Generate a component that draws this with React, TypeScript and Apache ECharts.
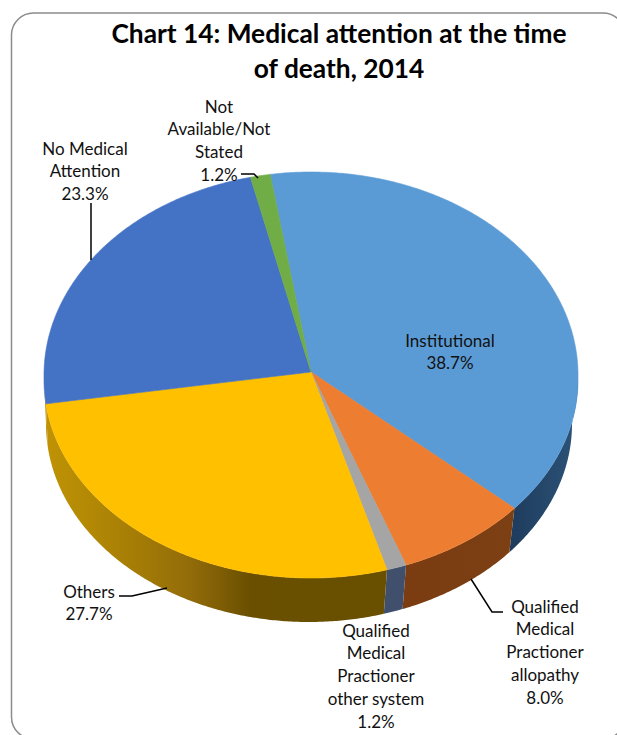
import React, { useEffect, useRef } from "react";
import * as echarts from "echarts";

const categories = [
  "Institutional",
  "Qualified\nMedical\nPractioner\nallopathy",
  "Qualified\nMedical\nPractioner\nother system",
  "Others",
  "No Medical\nAttention",
  "Not\nAvailable/Not\nStated",
];
const values = [38.7, 8.0, 1.2, 27.7, 23.3, 1.2];

const topColors = ["#5b9bd5", "#ed7d31", "#a5a5a5", "#ffc000", "#4472c4", "#70ad47"];
const wallStops: [number, string][][] = [
  [[0, "#1f3d5e"], [1, "#2c5378"]],
  [[0, "#7a3c10"], [1, "#7c4014"]],
  [[0, "#3f4f6c"], [1, "#3f4f6c"]],
  [[0, "#c09305"], [0.25, "#a67e05"], [0.42, "#936c0a"], [0.6, "#6a4f00"], [1, "#685000"]],
  [[0, "#c09305"], [1, "#c09305"]],
  [[0, "#000"], [1, "#000"]],
];
const labelAnchors = [
  [450, 340],
  [545, 606],
  [376, 630],
  [89, 591],
  [85, 148],
  [219, 106],
];
const leaders = [
  null,
  [[471, 579], [492, 612], [503, 612]],
  null,
  [[119, 596], [132, 596], [167, 588]],
  [[91, 203], [91, 260]],
  [[241, 174], [254, 174], [258, 178]],
];

const CX = 311, APEX_Y = 372, RX = 267, DEPTH = 44;
const BACK_CY = 375, BACK_RY = 203, FRONT_CY = 380, FRONT_RY = 198;
const FLOOR_CX = 309, FLOOR_RX = 263;
const START = -8.8, LH = 22.8, FONT = "Lato, Carlito, sans-serif";
const total = values.reduce((a, b) => a + b, 0);
const surfacePt = (deg: number) => {
  const r = (deg * Math.PI) / 180;
  const c = Math.cos(r);
  return [CX + RX * Math.sin(r), c > 0 ? BACK_CY - BACK_RY * c : FRONT_CY - FRONT_RY * c];
};
const floorPt = (deg: number) => {
  const r = (deg * Math.PI) / 180;
  return [FLOOR_CX + FLOOR_RX * Math.sin(r), FRONT_CY - FRONT_RY * Math.cos(r) + DEPTH];
};
const arc = (a: number, b: number, f: (d: number) => number[]) => {
  const n = Math.max(2, Math.ceil(Math.abs(b - a) * 2));
  return Array.from({ length: n + 1 }, (_, i) => f(a + ((b - a) * i) / n));
};

function renderItem(params: any) {
  const i = params.dataIndex;
  const before = values.slice(0, i).reduce((a, b) => a + b, 0);
  const a = START + (before / total) * 360;
  const b = a + (values[i] / total) * 360;
  const children: any[] = [];
  const wa = Math.max(a, 90), wb = Math.min(b, 270);
  if (wb > wa) {
    const top = arc(wa, wb, surfacePt);
    const bottom = arc(wb, wa, floorPt);
    const x0 = Math.min(...top.map((p) => p[0]));
    const x1 = Math.max(...top.map((p) => p[0]));
    children.push({
      type: "polygon",
      shape: { points: [...top, ...bottom] },
      style: {
        fill: new echarts.graphic.LinearGradient(
          x0, 0, x1, 0,
          wallStops[i].map(([offset, color]) => ({ offset, color })),
          true
        ),
      },
    });
  }
  children.push({
    type: "polygon",
    shape: { points: [[CX, APEX_Y], ...arc(a, b, surfacePt)] },
    style: { fill: topColors[i], stroke: topColors[i], lineWidth: 0.6 },
  });
  return { type: "group", children };
}

function renderLabels(params: any) {
  const i = params.dataIndex;
  const lines = [...categories[i].split("\n"), values[i].toFixed(1) + "%"];
  const [x, y] = labelAnchors[i];
  const children: any[] = lines.map((text, k) => ({
    type: "text",
    style: {
      text,
      x,
      y: y + k * LH,
      align: "center",
      verticalAlign: "middle",
      font: `17px ${FONT}`,
      fill: "#111",
    },
  }));
  const leader = leaders[i];
  if (leader) {
    children.push({
      type: "polyline",
      shape: { points: leader },
      style: { stroke: "#000", lineWidth: 1.5, fill: "none" },
    });
  }
  return { type: "group", children };
}

export default function App() {
  const ref = useRef<HTMLDivElement>(null);
  useEffect(() => {
    const chart = echarts.init(ref.current!, undefined, { renderer: "svg" });
    chart.setOption({
      animation: false,
      backgroundColor: "#fff",
      title: {
        text: "Chart 14: Medical attention at the time\nof death, 2014",
        left: 334,
        top: 10,
        textAlign: "center",
        textStyle: { fontFamily: FONT, fontWeight: "bold", fontSize: 26.3, lineHeight: 35, color: "#000" },
      },
      graphic: [
        {
          type: "rect",
          z: -1,
          shape: { x: 11.5, y: 13, width: 613.5, height: 726, r: 22 },
          style: { fill: "#fff", stroke: "#8c8c8c", lineWidth: 1.5 },
        },
      ],
      series: [
        { type: "custom", coordinateSystem: "none", renderItem, data: values, clip: false, silent: true },
        { type: "custom", coordinateSystem: "none", renderItem: renderLabels, data: values, clip: false, silent: true, z: 5 },
      ],
    });
    return () => chart.dispose();
  }, []);
  return <div ref={ref} style={{ position: "fixed", left: 0, top: 0, width: 617, height: 735 }} />;
}
